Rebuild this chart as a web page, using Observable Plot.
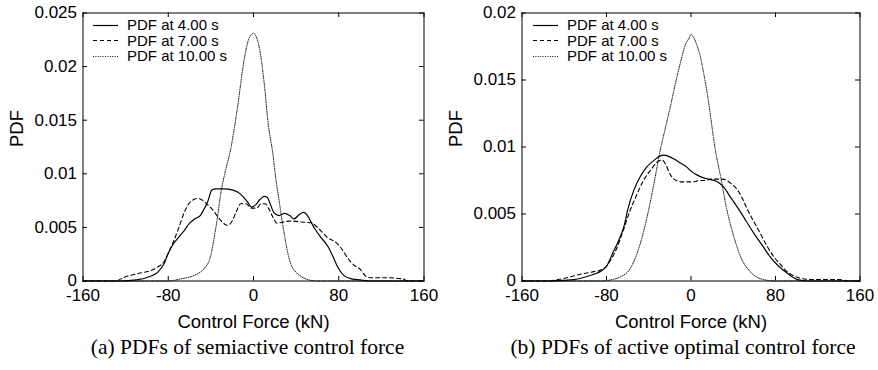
<!DOCTYPE html>
<html>
<head>
<meta charset="utf-8">
<script src="https://cdn.jsdelivr.net/npm/d3@7"></script>
<script src="https://cdn.jsdelivr.net/npm/@observablehq/plot@0.6"></script>
<style>
  body { margin: 0; background: #fff; }
  #wrap { position: relative; width: 878px; height: 370px; background: #fff; overflow: hidden; }
  .panel { position: absolute; top: 0; }
  .cap { position: absolute; top: 333px; width: 400px; text-align: center; font-family: "Liberation Serif", "Times New Roman", serif; font-size: 21.5px; color: #000; white-space: nowrap; line-height: 28px; }
  .legend { position: absolute; top: 17px; font-family: "Liberation Sans", Arial, sans-serif; font-size: 15px; color: #000; }
  .legend .row { display: flex; align-items: center; height: 15.5px; white-space: nowrap; }
  .legend svg { display: block; margin-right: 9px; }
</style>
</head>
<body>
<div id="wrap">
  <div id="pa" class="panel" style="left:0"></div>
  <div id="pb" class="panel" style="left:440px"></div>
  <div id="la" class="legend" style="left:93px"></div>
  <div id="lb" class="legend" style="left:533px"></div>
  <div id="ca" class="cap" style="left:47.5px"></div>
  <div id="cb" class="cap" style="left:483px"></div>
</div>
<script>
// ---- labels ----
const xLabel = "Control Force (kN)";
const yLabel = "PDF";
const seriesNames = ["PDF at 4.00 s", "PDF at 7.00 s", "PDF at 10.00 s"];
const captionA = "(a) PDFs of semiactive control force";
const captionB = "(b) PDFs of active optimal control force";

// ---- ticks ----
const xTicks = [-160, -80, 0, 80, 160];
const xTickLabels = ["-160", "-80", "0", "80", "160"];
const yTicksA = [0, 0.005, 0.01, 0.015, 0.02, 0.025];
const yTickLabelsA = ["0", "0.005", "0.01", "0.015", "0.02", "0.025"];
const yTicksB = [0, 0.005, 0.01, 0.015, 0.02];
const yTickLabelsB = ["0", "0.005", "0.01", "0.015", "0.02"];

// ---- panel (a): semiactive ----
const aForce4 = [-160,-125,-110,-98,-90,-84,-80,-75,-70,-65,-60,-55,-50,-47,-43,-39,-35,-28,-20,-15,-10,-5,-2,2,6,10,13,16,19,24,29,34,38,43,47,50,54,58,63,70,75,79,85,92,100,110,160];
const aPdf4   = [0,0,0.0001,0.0004,0.0008,0.0016,0.0026,0.0035,0.0041,0.0047,0.0054,0.0058,0.0061,0.0066,0.0074,0.0085,0.0086,0.0086,0.0085,0.0083,0.0079,0.0073,0.0069,0.0071,0.0076,0.0079,0.0078,0.0071,0.0064,0.0061,0.0063,0.0061,0.0058,0.0062,0.0064,0.0062,0.0055,0.0048,0.0041,0.0032,0.0022,0.0013,0.0005,0.0002,0.0001,0,0];
const aForce7 = [-160,-130,-120,-108,-96,-90,-84,-79,-75,-70,-65,-60,-56,-53,-49,-44,-38,-32,-27,-24,-20,-16,-12,-7,-2,3,7,11,14,18,22,28,35,45,55,60,65,70,76,82,88,94,100,106,110,125,140,145,160];
const aPdf7   = [0,0,0.0004,0.0007,0.0010,0.0013,0.0018,0.0028,0.0037,0.0050,0.0064,0.0073,0.0076,0.0077,0.0076,0.0072,0.0066,0.0058,0.0053,0.0052,0.0056,0.0065,0.0072,0.0072,0.0068,0.0068,0.0072,0.0072,0.0068,0.0060,0.0054,0.0055,0.0056,0.0055,0.0054,0.0050,0.0045,0.0040,0.0037,0.0031,0.0022,0.0015,0.0011,0.0004,0.0003,0.0003,0.0002,0,0];
const aForce10 = [-160,-80,-68,-56,-49,-45,-42,-40,-37,-34,-31,-27,-21,-15,-9,-5,-2,0,2,5,10,14,18,21,24,27,29,32,35,40,45,52,60,160];
const aPdf10   = [0,0,0.0002,0.0005,0.0009,0.0013,0.0018,0.0024,0.0040,0.0058,0.0080,0.0100,0.0125,0.0162,0.0205,0.0224,0.0230,0.0231,0.0229,0.0220,0.0185,0.0145,0.0120,0.0095,0.0075,0.0055,0.0043,0.0027,0.0016,0.0008,0.0004,0.0001,0,0];

// ---- panel (b): active optimal ----
const bForce4 = [-160,-135,-120,-111,-100,-92,-86,-80,-74,-67,-63,-60,-54,-48,-42,-35,-30,-26,-21,-16,-10,-4,0,6,12,17,22,27,31,37,44,52,60,68,75,83,91,96,101,110,160];
const bPdf4   = [0,0,0.00005,0.0001,0.0003,0.0005,0.0007,0.0011,0.0021,0.0033,0.0042,0.0053,0.0068,0.0078,0.0085,0.0090,0.0093,0.0094,0.0093,0.0091,0.0088,0.0085,0.0082,0.0079,0.0077,0.0076,0.0075,0.0073,0.0070,0.0063,0.0055,0.0045,0.0035,0.0026,0.0018,0.0011,0.0006,0.0003,0.0001,0,0];
const bForce7 = [-160,-136,-120,-105,-92,-86,-80,-75,-70,-64,-58,-51,-45,-38,-33,-29,-27,-24,-20,-16,-10,-4,2,8,13,19,25,30,34,39,44,49,53,59,66,72,78.5,85,91,97,104,115,140,150,160];
const bPdf7   = [0,0,0.0002,0.0005,0.0007,0.0008,0.0011,0.0017,0.0025,0.0038,0.0052,0.0065,0.0075,0.0083,0.0088,0.0090,0.0090,0.0087,0.0080,0.0076,0.0074,0.0074,0.0074,0.0075,0.0075,0.0076,0.0076,0.0076,0.0075,0.0072,0.0068,0.0061,0.0054,0.0045,0.0035,0.0026,0.0018,0.0012,0.0007,0.0004,0.0002,0.0001,0.0001,0,0];
const bForce10 = [-160,-85,-75,-67,-57,-48,-41.5,-35,-29,-24,-19,-14,-10,-5,-2,0,3,6,9,12,16,19,23,28,34,40.6,47,56,62,69,80,160];
const bPdf10   = [0,0,0.0001,0.0003,0.0010,0.0028,0.0048,0.0073,0.0098,0.0115,0.0132,0.0150,0.0163,0.0177,0.0181,0.0184,0.0181,0.0175,0.0167,0.0155,0.0137,0.0120,0.0098,0.0078,0.0053,0.0033,0.0018,0.0007,0.0003,0.0001,0,0];

const styles = [
  {stroke: "#000", strokeWidth: 1.2, strokeDasharray: null},
  {stroke: "#000", strokeWidth: 1.1, strokeDasharray: "4,3"},
  {stroke: "#111", strokeWidth: 1.0, strokeDasharray: "1,1.4"}
];

function toRows(xs, ys) { return xs.map((x, i) => ({x, y: ys[i]})); }

function panel({width, marginLeft, marginRight, yMax, yTicks, yTickLabels, series}) {
  const height = 335, marginTop = 12.5, marginBottom = height - 280.5;
  const fw = width - marginLeft - marginRight;
  const fh = height - marginTop - marginBottom;
  const tl = 4.5;
  const lines = series.map((d, i) =>
    Plot.line(toRows(d[0], d[1]), {x: "x", y: "y", curve: "monotone-x", ...Object.fromEntries(Object.entries(styles[i]).filter(([k, v]) => v != null))})
  );
  return Plot.plot({
    width, height, marginLeft, marginRight, marginTop, marginBottom,
    style: {fontFamily: "'Liberation Sans', Arial, sans-serif", fontSize: "17px", color: "#000", background: "transparent"},
    x: {domain: [-160, 160]},
    y: {domain: [0, yMax]},
    marks: [
      Plot.axisX(xTicks, {tickSize: 0, tickPadding: 8, label: null, fontSize: 17, tickFormat: d => xTickLabels[xTicks.indexOf(d)]}),
      Plot.axisY(yTicks, {tickSize: 0, tickPadding: 6, label: null, fontSize: 17, tickFormat: d => yTickLabels[yTicks.indexOf(d)]}),
      Plot.tickX(xTicks, {x: d => d, insetTop: fh - tl}),
      Plot.tickX(xTicks, {x: d => d, insetBottom: fh - tl}),
      Plot.tickY(yTicks, {y: d => d, insetRight: fw - tl}),
      Plot.tickY(yTicks, {y: d => d, insetLeft: fw - tl}),
      ...lines,
      Plot.frame({stroke: "#000", strokeWidth: 1}),
      Plot.text([xLabel], {text: d => d, frameAnchor: "bottom", dy: 41, fontSize: 18.5, lineAnchor: "middle"}),
      Plot.text([yLabel], {text: d => d, frameAnchor: "left", dx: -65.5, rotate: -90, fontSize: 18.5, lineAnchor: "middle"})
    ]
  });
}

document.getElementById("pa").append(panel({
  width: 440, marginLeft: 82.5, marginRight: 16.5, yMax: 0.025,
  yTicks: yTicksA, yTickLabels: yTickLabelsA,
  series: [[aForce4, aPdf4], [aForce7, aPdf7], [aForce10, aPdf10]]
}));
document.getElementById("pb").append(panel({
  width: 438, marginLeft: 81.5, marginRight: 18.5, yMax: 0.02,
  yTicks: yTicksB, yTickLabels: yTickLabelsB,
  series: [[bForce4, bPdf4], [bForce7, bPdf7], [bForce10, bPdf10]]
}));

function legend(el) {
  seriesNames.forEach((name, i) => {
    const row = document.createElement("div");
    row.className = "row";
    const s = styles[i];
    row.innerHTML = `<svg width="25" height="10"><line x1="0" x2="25" y1="5.5" y2="5.5" stroke="${s.stroke}" stroke-width="${s.strokeWidth}" ${s.strokeDasharray ? `stroke-dasharray="${s.strokeDasharray}"` : ""}/></svg><span>${name}</span>`;
    el.append(row);
  });
}
legend(document.getElementById("la"));
legend(document.getElementById("lb"));
document.getElementById("ca").textContent = captionA;
document.getElementById("cb").textContent = captionB;
</script>
</body>
</html>
